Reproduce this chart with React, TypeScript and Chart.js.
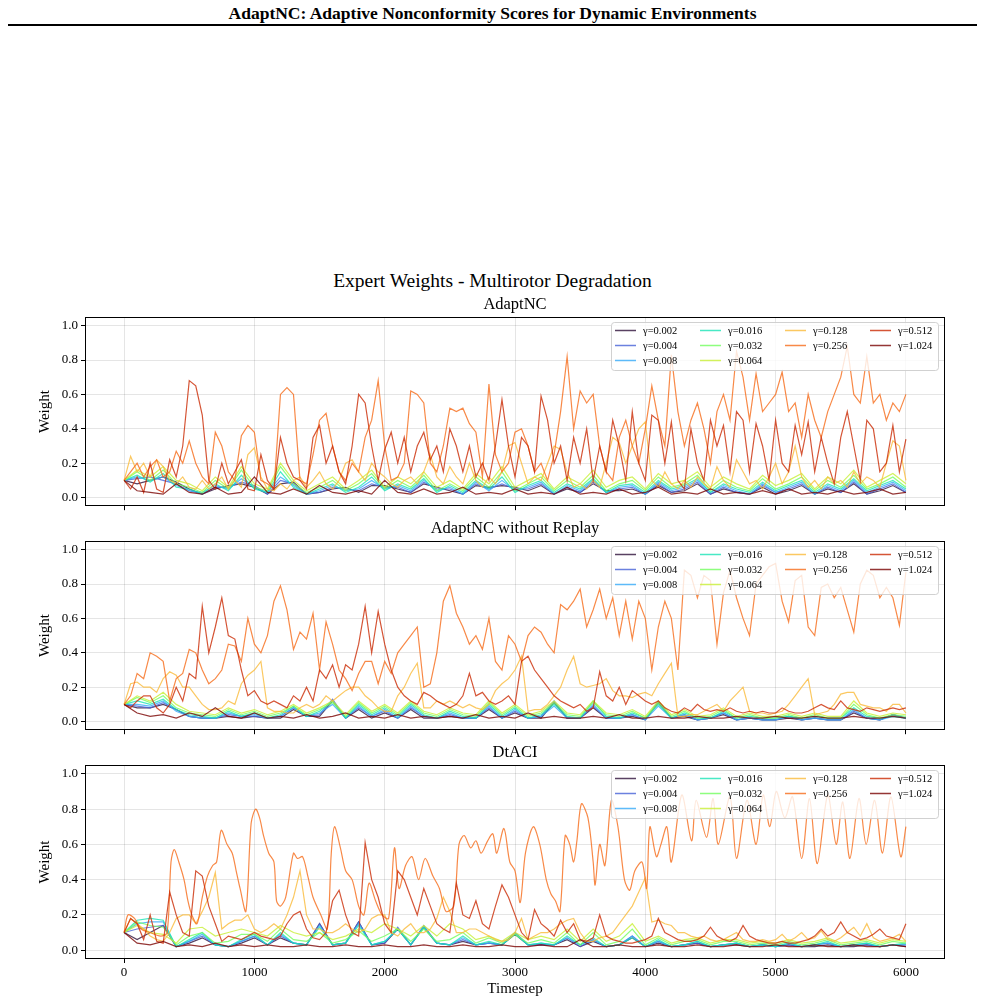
import React, { useEffect, useRef } from 'react';
import { Chart, registerables } from 'chart.js';

Chart.register(...registerables);

const SERIF = "'Liberation Serif', 'Times New Roman', serif";

const GAMMAS = ['0.002', '0.004', '0.008', '0.016', '0.032', '0.064', '0.128', '0.256', '0.512', '1.024'];
const COLORS = ['#30123b', '#4662d7', '#36aaf9', '#1ae4b6', '#72fe5e', '#c8ef34', '#faba39', '#f66b19', '#cb2a04', '#7a0403'];
const X_TICKS = [0, 1000, 2000, 3000, 4000, 5000, 6000];
const Y_TICKS = [0, 0.2, 0.4, 0.6, 0.8, 1.0];

// time grids (timestep of each reading)
const T50 = Array.from({ length: 121 }, (_, i) => i * 50);
const T100 = Array.from({ length: 61 }, (_, i) => i * 100);

// ---------------- Panel 1: AdaptNC ----------------
const A_002 = [0.10,0.08,0.10,0.12,0.09,0.05,0.02,0.05,0.07,0.08,
 0.06,0.02,0.08,0.09,0.02,0.03,0.05,0.06,0.03,0.07,
 0.07,0.05,0.03,0.08,0.06,0.04,0.02,0.07,0.06,0.07,
 0.06,0.04,0.07,0.02,0.05,0.03,0.08,0.04,0.04,0.05,
 0.02,0.07,0.03,0.04,0.08,0.02,0.05,0.03,0.02,0.06,
 0.02,0.04,0.07,0.02,0.05,0.03,0.08,0.02,0.04,0.07,
 0.03];
const A_004 = [0.10,0.11,0.12,0.10,0.08,0.04,0.02,0.06,0.06,0.09,
 0.07,0.02,0.10,0.08,0.02,0.03,0.06,0.05,0.04,0.08,
 0.06,0.06,0.03,0.09,0.05,0.05,0.02,0.08,0.05,0.08,
 0.05,0.05,0.08,0.02,0.06,0.03,0.09,0.03,0.05,0.06,
 0.02,0.08,0.03,0.05,0.09,0.02,0.06,0.03,0.02,0.07,
 0.03,0.05,0.08,0.02,0.06,0.03,0.09,0.02,0.05,0.08,
 0.03];
const A_008 = [0.10,0.12,0.10,0.12,0.07,0.04,0.03,0.07,0.05,0.11,
 0.06,0.03,0.12,0.07,0.02,0.04,0.07,0.04,0.05,0.10,
 0.05,0.07,0.04,0.10,0.04,0.06,0.02,0.09,0.04,0.10,
 0.04,0.06,0.09,0.02,0.07,0.04,0.10,0.03,0.06,0.07,
 0.02,0.09,0.04,0.06,0.10,0.03,0.07,0.04,0.02,0.08,
 0.03,0.06,0.09,0.02,0.07,0.04,0.10,0.03,0.06,0.09,
 0.04];
const A_016 = [0.10,0.13,0.09,0.14,0.06,0.05,0.02,0.08,0.04,0.13,
 0.05,0.03,0.15,0.06,0.02,0.05,0.08,0.03,0.06,0.12,
 0.04,0.08,0.05,0.11,0.03,0.07,0.03,0.10,0.05,0.12,
 0.03,0.07,0.10,0.03,0.08,0.05,0.11,0.03,0.07,0.08,
 0.03,0.10,0.05,0.07,0.11,0.03,0.08,0.05,0.03,0.09,
 0.04,0.07,0.10,0.03,0.08,0.05,0.11,0.04,0.07,0.10,
 0.05];
const A_032 = [0.10,0.15,0.10,0.16,0.08,0.06,0.03,0.10,0.05,0.16,
 0.06,0.04,0.18,0.08,0.03,0.06,0.10,0.04,0.08,0.14,
 0.05,0.10,0.06,0.13,0.04,0.08,0.04,0.12,0.06,0.15,
 0.04,0.08,0.12,0.04,0.10,0.06,0.13,0.04,0.08,0.10,
 0.04,0.12,0.06,0.08,0.13,0.04,0.10,0.06,0.04,0.11,
 0.05,0.08,0.12,0.04,0.10,0.06,0.13,0.05,0.08,0.12,
 0.06];
const A_064 = [0.10,0.16,0.12,0.18,0.10,0.08,0.04,0.12,0.06,0.18,
 0.08,0.05,0.20,0.10,0.04,0.08,0.12,0.05,0.10,0.16,
 0.06,0.12,0.08,0.15,0.06,0.10,0.05,0.14,0.08,0.18,
 0.06,0.10,0.14,0.05,0.12,0.08,0.16,0.06,0.10,0.12,
 0.05,0.14,0.08,0.10,0.15,0.06,0.12,0.08,0.05,0.13,
 0.07,0.10,0.14,0.05,0.12,0.08,0.16,0.06,0.10,0.14,
 0.08];
const A_128 = [0.10,0.24,0.15,0.20,0.12,0.22,0.18,0.10,0.08,0.12,
 0.06,0.05,0.10,0.05,0.08,0.12,0.05,0.10,0.06,0.25,
 0.29,0.12,0.05,0.04,0.08,0.05,0.10,0.12,0.06,0.10,
 0.15,0.08,0.05,0.10,0.20,0.22,0.15,0.10,0.20,0.15,
 0.12,0.08,0.06,0.10,0.12,0.08,0.15,0.25,0.12,0.08,
 0.18,0.12,0.08,0.20,0.10,0.06,0.12,0.08,0.15,0.30,
 0.32,0.20,0.08,0.12,0.10,0.20,0.30,0.28,0.15,0.06,
 0.08,0.05,0.10,0.06,0.20,0.35,0.32,0.20,0.30,0.40,
 0.44,0.10,0.06,0.15,0.08,0.05,0.10,0.06,0.12,0.08,
 0.05,0.18,0.10,0.06,0.22,0.15,0.08,0.10,0.05,0.12,
 0.20,0.08,0.15,0.30,0.12,0.06,0.10,0.05,0.12,0.08,
 0.10,0.06,0.15,0.08,0.12,0.10,0.06,0.20,0.33,0.30,
 0.10];
const A_256 = [0.10,0.15,0.20,0.12,0.18,0.22,0.12,0.15,0.27,0.20,
 0.33,0.20,0.12,0.08,0.38,0.30,0.15,0.10,0.36,0.42,
 0.38,0.10,0.08,0.05,0.60,0.64,0.60,0.10,0.08,0.25,
 0.45,0.49,0.30,0.15,0.10,0.20,0.15,0.35,0.45,0.68,
 0.30,0.10,0.12,0.20,0.62,0.60,0.55,0.20,0.15,0.30,
 0.52,0.50,0.52,0.43,0.38,0.12,0.66,0.25,0.15,0.20,
 0.38,0.40,0.30,0.15,0.20,0.10,0.25,0.50,0.82,0.40,
 0.62,0.55,0.60,0.30,0.15,0.10,0.35,0.45,0.30,0.20,
 0.40,0.65,0.45,0.30,0.83,0.50,0.30,0.45,0.55,0.40,
 0.20,0.50,0.60,0.45,0.85,0.70,0.45,0.72,0.50,0.55,
 0.60,0.73,0.50,0.55,0.35,0.60,0.45,0.35,0.50,0.60,
 0.70,0.88,0.60,0.55,0.82,0.55,0.60,0.45,0.55,0.50,
 0.60];
const A_512 = [0.10,0.05,0.12,0.03,0.20,0.05,0.03,0.22,0.12,0.30,
 0.68,0.65,0.48,0.10,0.05,0.20,0.08,0.15,0.22,0.05,
 0.04,0.25,0.10,0.05,0.35,0.20,0.12,0.10,0.05,0.35,
 0.42,0.20,0.30,0.15,0.08,0.30,0.60,0.55,0.30,0.10,
 0.28,0.38,0.20,0.35,0.15,0.30,0.38,0.22,0.30,0.15,
 0.40,0.30,0.15,0.30,0.12,0.20,0.10,0.30,0.57,0.30,
 0.12,0.35,0.30,0.15,0.59,0.45,0.20,0.30,0.10,0.35,
 0.20,0.40,0.10,0.30,0.15,0.45,0.30,0.10,0.50,0.20,
 0.10,0.48,0.45,0.20,0.44,0.10,0.05,0.40,0.20,0.10,
 0.45,0.30,0.42,0.15,0.50,0.45,0.15,0.43,0.30,0.10,
 0.45,0.20,0.15,0.42,0.25,0.44,0.15,0.35,0.20,0.08,
 0.35,0.50,0.30,0.10,0.45,0.40,0.15,0.20,0.42,0.15,
 0.34];
const A_1024 = [0.10,0.04,0.03,0.02,0.08,0.03,0.02,0.06,0.02,0.03,
 0.12,0.03,0.02,0.05,0.02,0.07,0.03,0.02,0.04,0.02,
 0.10,0.03,0.02,0.05,0.02,0.03,0.06,0.02,0.03,0.02,
 0.05,0.02,0.03,0.02,0.06,0.02,0.03,0.02,0.05,0.02,
 0.03,0.06,0.02,0.03,0.02,0.05,0.02,0.03,0.02,0.04,
 0.02,0.05,0.02,0.03,0.02,0.04,0.02,0.03,0.05,0.02,
 0.03];

// ---------------- Panel 2: AdaptNC without Replay ----------------
const B_002 = [0.10,0.08,0.08,0.10,0.07,0.03,0.02,0.02,0.03,0.02,
 0.03,0.02,0.02,0.07,0.03,0.03,0.12,0.02,0.07,0.02,
 0.05,0.02,0.07,0.02,0.02,0.03,0.02,0.02,0.07,0.02,
 0.05,0.02,0.02,0.11,0.02,0.02,0.08,0.02,0.02,0.03,
 0.01,0.11,0.02,0.03,0.01,0.02,0.04,0.01,0.02,0.01,
 0.01,0.02,0.01,0.02,0.01,0.01,0.05,0.02,0.01,0.04,
 0.02];
const B_004 = [0.10,0.09,0.08,0.11,0.07,0.03,0.02,0.02,0.04,0.03,
 0.03,0.02,0.03,0.08,0.03,0.04,0.13,0.02,0.08,0.03,
 0.06,0.02,0.08,0.03,0.02,0.04,0.02,0.02,0.08,0.02,
 0.06,0.02,0.03,0.12,0.02,0.02,0.09,0.02,0.02,0.04,
 0.01,0.12,0.02,0.04,0.01,0.02,0.05,0.01,0.02,0.01,
 0.01,0.03,0.01,0.02,0.01,0.01,0.06,0.02,0.01,0.04,
 0.02];
const B_008 = [0.10,0.10,0.09,0.12,0.06,0.03,0.02,0.02,0.05,0.03,
 0.04,0.02,0.03,0.08,0.03,0.05,0.10,0.02,0.09,0.03,
 0.07,0.02,0.09,0.03,0.02,0.05,0.02,0.02,0.09,0.02,
 0.07,0.02,0.03,0.09,0.02,0.02,0.10,0.02,0.02,0.04,
 0.01,0.09,0.02,0.04,0.01,0.02,0.05,0.01,0.02,0.01,
 0.01,0.03,0.01,0.02,0.01,0.01,0.07,0.02,0.01,0.03,
 0.02];
const B_016 = [0.10,0.12,0.10,0.13,0.07,0.04,0.03,0.02,0.06,0.03,
 0.05,0.02,0.04,0.09,0.03,0.06,0.12,0.02,0.10,0.04,
 0.08,0.03,0.10,0.04,0.02,0.06,0.03,0.02,0.10,0.03,
 0.08,0.02,0.04,0.10,0.03,0.02,0.12,0.03,0.02,0.05,
 0.02,0.10,0.02,0.05,0.02,0.02,0.06,0.02,0.03,0.02,
 0.02,0.03,0.02,0.03,0.02,0.02,0.08,0.03,0.02,0.03,
 0.02];
const B_032 = [0.10,0.14,0.11,0.15,0.08,0.05,0.04,0.03,0.07,0.04,
 0.06,0.03,0.05,0.09,0.04,0.07,0.11,0.03,0.11,0.05,
 0.09,0.04,0.11,0.05,0.03,0.07,0.04,0.03,0.11,0.04,
 0.09,0.03,0.05,0.11,0.04,0.03,0.11,0.04,0.03,0.06,
 0.02,0.11,0.03,0.06,0.02,0.03,0.07,0.02,0.04,0.02,
 0.02,0.04,0.02,0.04,0.02,0.02,0.10,0.04,0.02,0.04,
 0.03];
const B_064 = [0.10,0.15,0.12,0.17,0.10,0.06,0.05,0.04,0.08,0.05,
 0.07,0.04,0.06,0.10,0.05,0.08,0.12,0.04,0.12,0.06,
 0.10,0.05,0.12,0.06,0.04,0.08,0.05,0.04,0.12,0.05,
 0.10,0.04,0.06,0.12,0.05,0.04,0.12,0.05,0.04,0.07,
 0.03,0.12,0.04,0.07,0.03,0.04,0.08,0.03,0.05,0.03,
 0.03,0.05,0.03,0.05,0.03,0.03,0.12,0.05,0.03,0.05,
 0.04];
const B_128 = [0.10,0.22,0.23,0.20,0.20,0.17,0.25,0.29,0.27,0.20,
 0.20,0.15,0.10,0.07,0.07,0.08,0.12,0.10,0.22,0.27,
 0.30,0.35,0.08,0.06,0.06,0.05,0.05,0.08,0.10,0.08,
 0.10,0.15,0.12,0.15,0.18,0.20,0.20,0.15,0.12,0.08,
 0.06,0.06,0.15,0.20,0.28,0.34,0.08,0.08,0.12,0.10,
 0.12,0.10,0.08,0.10,0.08,0.07,0.10,0.18,0.22,0.25,
 0.30,0.38,0.06,0.07,0.07,0.10,0.15,0.20,0.30,0.38,
 0.22,0.20,0.21,0.22,0.25,0.18,0.15,0.15,0.14,0.16,
 0.17,0.15,0.22,0.28,0.34,0.03,0.03,0.04,0.04,0.06,
 0.08,0.10,0.06,0.12,0.16,0.20,0.06,0.05,0.05,0.04,
 0.05,0.06,0.10,0.15,0.20,0.25,0.04,0.05,0.06,0.10,
 0.16,0.17,0.17,0.10,0.09,0.08,0.08,0.06,0.10,0.10,
 0.05];
const B_256 = [0.10,0.15,0.28,0.25,0.40,0.38,0.35,0.12,0.25,0.28,
 0.42,0.40,0.30,0.22,0.25,0.30,0.45,0.44,0.35,0.60,
 0.45,0.40,0.50,0.70,0.79,0.65,0.42,0.52,0.48,0.63,
 0.30,0.58,0.45,0.30,0.25,0.18,0.28,0.35,0.35,0.22,
 0.35,0.28,0.40,0.45,0.50,0.55,0.20,0.22,0.40,0.70,
 0.79,0.63,0.55,0.45,0.50,0.42,0.60,0.35,0.30,0.50,
 0.45,0.35,0.50,0.55,0.52,0.45,0.40,0.68,0.65,0.70,
 0.77,0.55,0.65,0.77,0.60,0.72,0.50,0.70,0.48,0.70,
 0.60,0.30,0.55,0.70,0.60,0.30,0.88,0.85,0.72,0.85,
 0.82,0.45,0.75,0.88,0.72,0.60,0.50,0.80,0.85,0.90,
 0.92,0.70,0.58,0.82,0.85,0.55,0.50,0.78,0.80,0.72,
 0.78,0.65,0.52,0.80,0.88,0.85,0.72,0.78,0.72,0.56,
 0.87];
const B_512 = [0.10,0.08,0.12,0.15,0.15,0.08,0.05,0.10,0.20,0.12,
 0.28,0.25,0.67,0.40,0.55,0.72,0.50,0.48,0.30,0.15,
 0.18,0.12,0.10,0.12,0.10,0.08,0.15,0.12,0.20,0.12,
 0.30,0.25,0.33,0.20,0.33,0.30,0.45,0.67,0.40,0.64,
 0.45,0.30,0.20,0.15,0.12,0.10,0.17,0.15,0.12,0.10,
 0.08,0.10,0.15,0.28,0.15,0.17,0.12,0.10,0.12,0.15,
 0.10,0.35,0.38,0.30,0.25,0.20,0.15,0.12,0.10,0.08,
 0.10,0.06,0.08,0.29,0.15,0.12,0.20,0.10,0.18,0.15,
 0.12,0.10,0.12,0.08,0.06,0.05,0.08,0.06,0.10,0.07,
 0.06,0.07,0.06,0.08,0.06,0.05,0.06,0.05,0.06,0.05,
 0.05,0.08,0.06,0.05,0.05,0.06,0.08,0.10,0.08,0.07,
 0.12,0.08,0.07,0.06,0.08,0.07,0.06,0.07,0.08,0.07,
 0.08];
const B_1024 = [0.10,0.05,0.03,0.04,0.02,0.05,0.03,0.08,0.03,0.02,
 0.05,0.02,0.03,0.02,0.04,0.02,0.03,0.05,0.02,0.03,
 0.02,0.04,0.02,0.03,0.02,0.03,0.02,0.04,0.02,0.03,
 0.02,0.05,0.02,0.03,0.02,0.02,0.03,0.02,0.04,0.02,
 0.02,0.03,0.02,0.02,0.03,0.02,0.02,0.03,0.02,0.02,
 0.03,0.02,0.02,0.03,0.02,0.02,0.03,0.02,0.02,0.03,
 0.02];

// ---------------- Panel 3: DtACI ----------------
const C_002 = [0.10,0.06,0.10,0.14,0.02,0.04,0.07,0.03,0.02,0.04,
 0.07,0.03,0.07,0.04,0.03,0.15,0.03,0.04,0.16,0.03,
 0.04,0.12,0.03,0.13,0.04,0.03,0.05,0.03,0.04,0.03,
 0.09,0.03,0.03,0.03,0.06,0.02,0.05,0.02,0.03,0.07,
 0.02,0.04,0.02,0.03,0.04,0.02,0.03,0.03,0.02,0.03,
 0.02,0.03,0.02,0.02,0.03,0.02,0.02,0.03,0.02,0.03,
 0.02];
const C_004 = [0.10,0.12,0.13,0.14,0.02,0.05,0.08,0.03,0.02,0.05,
 0.08,0.03,0.08,0.04,0.03,0.15,0.03,0.04,0.16,0.03,
 0.04,0.13,0.03,0.14,0.04,0.03,0.06,0.03,0.04,0.03,
 0.10,0.03,0.03,0.03,0.07,0.02,0.06,0.02,0.03,0.08,
 0.02,0.05,0.02,0.03,0.04,0.02,0.03,0.04,0.02,0.03,
 0.02,0.03,0.02,0.03,0.04,0.02,0.03,0.03,0.02,0.03,
 0.03];
const C_008 = [0.10,0.15,0.16,0.16,0.02,0.05,0.09,0.03,0.02,0.05,
 0.08,0.03,0.09,0.04,0.03,0.14,0.03,0.04,0.15,0.03,
 0.05,0.12,0.03,0.13,0.04,0.03,0.07,0.03,0.04,0.03,
 0.10,0.03,0.04,0.03,0.07,0.03,0.06,0.02,0.03,0.08,
 0.02,0.05,0.02,0.03,0.05,0.02,0.03,0.04,0.02,0.03,
 0.02,0.04,0.02,0.03,0.04,0.02,0.03,0.04,0.02,0.03,
 0.03];
const C_016 = [0.10,0.17,0.18,0.17,0.02,0.06,0.10,0.03,0.02,0.06,
 0.09,0.03,0.10,0.04,0.03,0.13,0.03,0.04,0.14,0.03,
 0.05,0.12,0.03,0.13,0.04,0.03,0.08,0.03,0.05,0.03,
 0.09,0.03,0.04,0.03,0.08,0.03,0.07,0.02,0.03,0.07,
 0.02,0.06,0.02,0.03,0.05,0.02,0.03,0.04,0.02,0.03,
 0.02,0.04,0.02,0.03,0.05,0.02,0.03,0.04,0.02,0.03,
 0.04];
const C_032 = [0.10,0.16,0.14,0.13,0.03,0.08,0.10,0.04,0.05,0.09,
 0.09,0.05,0.12,0.06,0.05,0.10,0.04,0.06,0.11,0.05,
 0.08,0.12,0.05,0.12,0.05,0.06,0.10,0.04,0.07,0.04,
 0.09,0.04,0.06,0.04,0.10,0.03,0.10,0.03,0.05,0.12,
 0.03,0.07,0.03,0.05,0.06,0.03,0.05,0.05,0.03,0.04,
 0.03,0.05,0.03,0.04,0.06,0.03,0.04,0.05,0.03,0.05,
 0.04];
const C_064 = [0.10,0.14,0.10,0.09,0.04,0.12,0.13,0.08,0.10,0.12,
 0.10,0.08,0.14,0.10,0.08,0.10,0.06,0.08,0.12,0.10,
 0.15,0.12,0.08,0.14,0.08,0.15,0.12,0.06,0.08,0.05,
 0.10,0.06,0.08,0.06,0.12,0.05,0.12,0.05,0.08,0.15,
 0.05,0.08,0.04,0.06,0.07,0.04,0.06,0.06,0.04,0.05,
 0.04,0.06,0.04,0.05,0.07,0.04,0.05,0.06,0.04,0.06,
 0.05];
const C_128 = [0.10,0.18,0.15,0.12,0.08,0.06,0.05,0.10,0.18,0.20,
 0.20,0.15,0.22,0.30,0.44,0.12,0.15,0.17,0.17,0.20,
 0.12,0.10,0.12,0.15,0.12,0.20,0.30,0.45,0.20,0.12,
 0.12,0.10,0.10,0.12,0.15,0.12,0.10,0.12,0.18,0.20,
 0.20,0.10,0.08,0.12,0.15,0.10,0.10,0.12,0.18,0.30,
 0.22,0.10,0.10,0.12,0.12,0.10,0.08,0.06,0.05,0.06,
 0.10,0.18,0.06,0.08,0.10,0.10,0.12,0.15,0.17,0.18,
 0.10,0.05,0.05,0.07,0.08,0.10,0.15,0.20,0.25,0.33,
 0.41,0.16,0.17,0.15,0.14,0.10,0.10,0.08,0.07,0.08,
 0.06,0.05,0.06,0.08,0.10,0.06,0.05,0.05,0.06,0.05,
 0.06,0.09,0.05,0.07,0.10,0.06,0.07,0.11,0.06,0.05,
 0.07,0.10,0.13,0.08,0.15,0.07,0.05,0.06,0.07,0.09,
 0.05];
const C_256_T = [0,30,80,130,200,280,330,360,385,420,
 460,490,520,560,600,640,680,710,745,790,
 830,860,890,935,975,1010,1040,1070,1110,1150,
 1170,1200,1240,1300,1330,1370,1410,1450,1510,1560,
 1590,1615,1660,1700,1750,1800,1840,1880,1930,1980,
 2030,2075,2110,2160,2210,2260,2310,2370,2420,2470,
 2530,2570,2610,2660,2700,2740,2790,2830,2860,2915,
 2960,3000,3040,3080,3140,3190,3240,3275,3310,3345,
 3385,3420,3450,3475,3510,3560,3600,3615,3650,3690,
 3740,3790,3840,3880,3920,3975,4010,4035,4085,4120,
 4165,4200,4280,4355,4390,4470,4520,4560,4650,4700,
 4780,4850,4905,4955,5005,5070,5130,5200,5260,5320,
 5400,5465,5515,5570,5640,5695,5760,5820,5885,5960,
 6000];
const C_256 = [0.10,0.20,0.18,0.12,0.10,0.08,0.10,0.50,0.57,0.50,
 0.40,0.28,0.20,0.15,0.30,0.42,0.48,0.50,0.68,0.60,
 0.55,0.45,0.35,0.22,0.72,0.80,0.75,0.65,0.55,0.50,
 0.28,0.25,0.30,0.55,0.52,0.53,0.42,0.30,0.20,0.12,
 0.55,0.70,0.58,0.45,0.40,0.25,0.20,0.38,0.28,0.20,
 0.18,0.58,0.35,0.48,0.53,0.40,0.52,0.42,0.35,0.22,
 0.25,0.60,0.65,0.58,0.62,0.55,0.62,0.66,0.55,0.69,
 0.50,0.45,0.27,0.55,0.70,0.60,0.40,0.32,0.28,0.22,
 0.65,0.60,0.50,0.62,0.83,0.75,0.50,0.37,0.60,0.48,
 0.85,0.70,0.40,0.34,0.45,0.50,0.35,0.70,0.53,0.60,
 0.70,0.50,0.88,0.62,0.85,0.64,0.86,0.60,0.87,0.52,
 0.85,0.60,0.88,0.70,0.90,0.75,0.87,0.52,0.86,0.49,
 0.88,0.60,0.84,0.52,0.86,0.60,0.85,0.55,0.87,0.53,
 0.70];
const C_512 = [0.10,0.18,0.15,0.06,0.20,0.05,0.04,0.33,0.20,0.10,
 0.08,0.45,0.42,0.25,0.15,0.05,0.08,0.07,0.06,0.08,
 0.10,0.08,0.07,0.06,0.08,0.15,0.20,0.22,0.12,0.07,
 0.06,0.10,0.28,0.34,0.20,0.10,0.08,0.61,0.40,0.30,
 0.15,0.10,0.45,0.40,0.30,0.20,0.35,0.25,0.15,0.12,
 0.10,0.38,0.20,0.18,0.28,0.15,0.12,0.25,0.37,0.30,
 0.20,0.10,0.06,0.23,0.15,0.12,0.08,0.17,0.10,0.15,
 0.06,0.05,0.07,0.20,0.08,0.06,0.05,0.04,0.04,0.05,
 0.06,0.08,0.18,0.10,0.08,0.06,0.05,0.05,0.06,0.08,
 0.13,0.08,0.06,0.05,0.07,0.14,0.08,0.06,0.05,0.04,
 0.04,0.05,0.04,0.04,0.05,0.06,0.08,0.12,0.08,0.10,
 0.16,0.10,0.08,0.06,0.07,0.09,0.12,0.08,0.07,0.06,
 0.15];
const C_1024 = [0.10,0.04,0.03,0.05,0.02,0.03,0.02,0.04,0.02,0.03,
 0.02,0.03,0.02,0.02,0.03,0.02,0.02,0.03,0.02,0.02,
 0.03,0.02,0.02,0.03,0.02,0.02,0.03,0.02,0.02,0.03,
 0.02,0.02,0.03,0.02,0.02,0.06,0.02,0.02,0.03,0.02,
 0.02,0.03,0.02,0.02,0.03,0.02,0.02,0.03,0.02,0.02,
 0.03,0.02,0.02,0.03,0.02,0.02,0.03,0.02,0.02,0.03,
 0.02];

type Series = { t: number[]; w: number[]; tension?: number };
type PanelDef = { title: string; series: Series[] };

const PANELS: PanelDef[] = [
  {
    title: 'AdaptNC',
    series: [
      { t: T100, w: A_002 }, { t: T100, w: A_004 }, { t: T100, w: A_008 }, { t: T100, w: A_016 },
      { t: T100, w: A_032 }, { t: T100, w: A_064 }, { t: T50, w: A_128 }, { t: T50, w: A_256 },
      { t: T50, w: A_512 }, { t: T100, w: A_1024 },
    ],
  },
  {
    title: 'AdaptNC without Replay',
    series: [
      { t: T100, w: B_002 }, { t: T100, w: B_004 }, { t: T100, w: B_008 }, { t: T100, w: B_016 },
      { t: T100, w: B_032 }, { t: T100, w: B_064 }, { t: T50, w: B_128 }, { t: T50, w: B_256 },
      { t: T50, w: B_512 }, { t: T100, w: B_1024 },
    ],
  },
  {
    title: 'DtACI',
    series: [
      { t: T100, w: C_002 }, { t: T100, w: C_004 }, { t: T100, w: C_008 }, { t: T100, w: C_016 },
      { t: T100, w: C_032 }, { t: T100, w: C_064 }, { t: T50, w: C_128 }, { t: C_256_T, w: C_256, tension: 0.3 },
      { t: T50, w: C_512 }, { t: T100, w: C_1024 },
    ],
  },
];

// legend layout: 4 columns holding 3, 3, 2, 2 entries (column-major)
const LEGEND_COL_SIZES = [3, 3, 2, 2];

function rgba(hex: string, a: number) {
  const n = parseInt(hex.slice(1), 16);
  return `rgba(${(n >> 16) & 255},${(n >> 8) & 255},${n & 255},${a})`;
}

const LINE_ALPHA = 0.8;

function decorPlugin(title: string, showX: boolean) {
  return {
    id: 'decor',
    afterDraw(chart: any) {
      const { ctx, chartArea: a } = chart;
      ctx.save();
      // frame
      ctx.strokeStyle = '#000';
      ctx.lineWidth = 1;
      ctx.strokeRect(Math.round(a.left) + 0.5, Math.round(a.top) + 0.5, Math.round(a.right - a.left) - 1, Math.round(a.bottom - a.top) - 1);
      // title
      ctx.fillStyle = '#000';
      ctx.font = `16.5px ${SERIF}`;
      ctx.textAlign = 'center';
      ctx.textBaseline = 'alphabetic';
      ctx.fillText(title, (a.left + a.right) / 2, a.top - 8);
      // y label
      ctx.save();
      ctx.translate(a.left - 40, (a.top + a.bottom) / 2);
      ctx.rotate(-Math.PI / 2);
      ctx.font = `15px ${SERIF}`;
      ctx.textBaseline = 'middle';
      ctx.fillText('Weight', 0, 0);
      ctx.restore();
      if (showX) {
        ctx.font = `15px ${SERIF}`;
        ctx.textAlign = 'center';
        ctx.textBaseline = 'alphabetic';
        ctx.fillText('Timestep', (a.left + a.right) / 2, a.bottom + 34);
      }
      // legend
      const bw = 327, bh = 48;
      const x0 = a.right - 7 - bw;
      const y0 = a.top + 5;
      ctx.beginPath();
      (ctx as any).roundRect(x0 + 0.5, y0 + 0.5, bw, bh, 3);
      ctx.fillStyle = 'rgba(255,255,255,0.8)';
      ctx.fill();
      ctx.strokeStyle = 'rgba(204,204,204,0.9)';
      ctx.lineWidth = 1;
      ctx.stroke();
      ctx.font = `10.5px ${SERIF}`;
      ctx.textAlign = 'left';
      ctx.textBaseline = 'middle';
      let k = 0;
      for (let col = 0; col < LEGEND_COL_SIZES.length; col++) {
        for (let row = 0; row < LEGEND_COL_SIZES[col]; row++, k++) {
          const lx = x0 + 4 + col * 85;
          const ly = y0 + 8.5 + row * 15;
          ctx.strokeStyle = rgba(COLORS[k], LINE_ALPHA);
          ctx.lineWidth = 1.5;
          ctx.beginPath();
          ctx.moveTo(lx, ly);
          ctx.lineTo(lx + 21, ly);
          ctx.stroke();
          ctx.fillStyle = '#000';
          ctx.fillText('γ=' + GAMMAS[k], lx + 28, ly + 0.5);
        }
      }
      ctx.restore();
    },
  };
}

function Panel({ def, top, showX }: { def: PanelDef; top: number; showX: boolean }) {
  const ref = useRef<HTMLCanvasElement>(null);
  const height = showX ? 270 : 228;
  useEffect(() => {
    const canvas = ref.current;
    if (!canvas) return;
    const datasets = def.series.map((s, i) => ({
      label: 'γ=' + GAMMAS[i],
      data: s.w.map((w, j) => ({ x: s.t[j], y: w })),
      borderColor: rgba(COLORS[i], LINE_ALPHA),
      backgroundColor: rgba(COLORS[i], LINE_ALPHA),
      borderWidth: 1.2,
      pointRadius: 0,
      fill: false,
      tension: s.tension ?? 0,
      order: 9 - i,
    }));
    const gridColor = 'rgba(0,0,0,0.1)';
    const chart = new Chart(canvas, {
      type: 'line',
      data: { datasets },
      options: {
        animation: false,
        responsive: false,
        events: [],
        layout: { padding: { left: 32, right: 32, top: 28, bottom: 0 } },
        plugins: { legend: { display: false }, tooltip: { enabled: false }, title: { display: false } },
        scales: {
          x: {
            type: 'linear',
            min: -300,
            max: 6300,
            afterBuildTicks: (s: any) => { s.ticks = X_TICKS.map((v) => ({ value: v })); },
            afterFit: (s: any) => { s.height = showX ? 48 : 6; },
            ticks: {
              display: showX,
              autoSkip: false,
              maxRotation: 0,
              padding: 2,
              color: '#000',
              font: { family: SERIF, size: 13 },
              callback: (v: any) => String(v),
            },
            grid: { color: gridColor, tickColor: '#000', tickLength: 4, drawTicks: true, lineWidth: 1 },
            border: { display: false },
          },
          y: {
            type: 'linear',
            min: -0.05,
            max: 1.05,
            afterBuildTicks: (s: any) => { s.ticks = Y_TICKS.map((v) => ({ value: v })); },
            afterFit: (s: any) => { s.width = 45; },
            ticks: {
              autoSkip: false,
              padding: 3,
              color: '#000',
              font: { family: SERIF, size: 13 },
              callback: (v: any) => Number(v).toFixed(1),
            },
            grid: { color: gridColor, tickColor: '#000', tickLength: 4, drawTicks: true, lineWidth: 1 },
            border: { display: false },
          },
        },
      } as any,
      plugins: [decorPlugin(def.title, showX)],
    });
    return () => chart.destroy();
  }, []);
  return (
    <canvas
      ref={ref}
      width={969}
      height={height}
      style={{ position: 'absolute', left: 0, top, width: 969, height, display: 'block' }}
    />
  );
}

export default function App() {
  useEffect(() => {
    document.documentElement.style.overflow = 'hidden';
    document.body.style.overflow = 'hidden';
  }, []);
  return (
    <div style={{ position: 'relative', width: 969, height: 988 }}>
      <div
        style={{
          position: 'absolute', left: -1, top: -5, width: 971, height: 21, lineHeight: '17px',
          textAlign: 'center', font: `bold 17.5px ${SERIF}`, borderBottom: '2px solid #000', color: '#000',
        }}
      >
        AdaptNC: Adaptive Nonconformity Scores for Dynamic Environments
      </div>
      <div
        style={{
          position: 'absolute', left: 0, top: 262, width: 969, textAlign: 'center',
          font: `19.5px ${SERIF}`, lineHeight: '22px', color: '#000',
        }}
      >
        Expert Weights - Multirotor Degradation
      </div>
      <Panel def={PANELS[0]} top={281} showX={false} />
      <Panel def={PANELS[1]} top={505} showX={false} />
      <Panel def={PANELS[2]} top={729} showX={true} />
    </div>
  );
}
